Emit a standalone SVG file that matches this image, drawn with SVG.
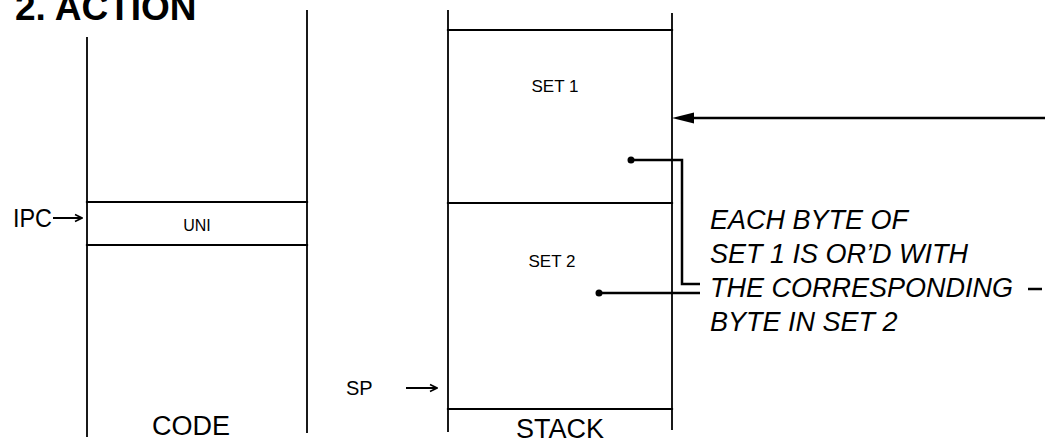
<svg xmlns="http://www.w3.org/2000/svg" width="1045" height="445" viewBox="0 0 1045 445">
<style>
.ln{stroke:#000;stroke-width:2.2;fill:none;stroke-linecap:square}
.vl{stroke:#000;stroke-width:1.8;fill:none}
.t{font-family:"Liberation Sans",Arial,sans-serif;fill:#000}
.it{font-family:"Liberation Sans",Arial,sans-serif;font-style:italic;font-size:27px;fill:#000}
.cn{stroke:#000;stroke-width:2.5;fill:none}
.ptr{stroke:#000;stroke-width:2;fill:none}
</style>
<defs>
<marker id="open" viewBox="0 0 10 10" refX="9" refY="5" markerWidth="10" markerHeight="10" markerUnits="userSpaceOnUse" orient="auto">
<path d="M2,1.5 L9,5 L2,8.5" fill="none" stroke="#000" stroke-width="1.6"/>
</marker>
</defs>
<rect width="1045" height="445" fill="#fff"/>
<text class="t" x="15" y="20" font-size="37" font-weight="bold">2. ACTION</text>

<g id="code">
<line class="vl" x1="87" y1="37" x2="87" y2="437"/>
<line class="vl" x1="307" y1="10" x2="307" y2="433"/>
<text class="t" x="191" y="435" font-size="27" text-anchor="middle">CODE</text>
</g>
<g id="uni">
<line class="ln" x1="87" y1="202" x2="307" y2="202"/>
<line class="ln" x1="87" y1="245" x2="307" y2="245"/>
<text class="t" x="197" y="231" font-size="16" text-anchor="middle">UNI</text>
</g>
<g id="ipc">
<text class="t" x="13" y="227" font-size="25" textLength="39" lengthAdjust="spacingAndGlyphs">IPC</text>
</g>

<g id="stack">
<line class="vl" x1="448" y1="10" x2="448" y2="432"/>
<line class="vl" x1="672" y1="13" x2="672" y2="430"/>
<line class="ln" x1="448" y1="409" x2="672" y2="409"/>
<text class="t" x="560" y="438" font-size="27" text-anchor="middle">STACK</text>
</g>
<g id="set1">
<line class="ln" x1="448" y1="30" x2="672" y2="30"/>
<text class="t" x="555" y="92" font-size="17" text-anchor="middle">SET 1</text>
</g>
<g id="set2">
<line class="ln" x1="448" y1="203" x2="672" y2="203"/>
<text class="t" x="552" y="267" font-size="17" text-anchor="middle">SET 2</text>
</g>
<g id="sp">
<text class="t" x="346" y="395" font-size="20">SP</text>
</g>

<g id="note">
<text class="it" x="710" y="229">EACH BYTE OF</text>
<text class="it" x="710" y="263">SET 1 IS OR’D WITH</text>
<text class="it" x="710" y="297">THE CORRESPONDING</text>
<text class="it" x="710" y="331">BYTE IN SET 2</text>
</g>

<g id="connectors">
<line class="ptr" x1="53" y1="218" x2="82" y2="218" marker-end="url(#open)"/>
<line class="ptr" x1="406" y1="388" x2="437" y2="388" marker-end="url(#open)"/>
<line class="cn" x1="692" y1="118" x2="1045" y2="118"/>
<polygon points="672,118 694,112.5 694,123.5" fill="#000"/>
<circle cx="631" cy="160" r="3.5" fill="#000"/>
<path class="cn" d="M631,160 H682 V284 H700"/>
<circle cx="599" cy="293" r="3.5" fill="#000"/>
<path class="cn" d="M599,293 H700"/>
<path class="cn" d="M1028,289 H1042"/>
</g>
</svg>
